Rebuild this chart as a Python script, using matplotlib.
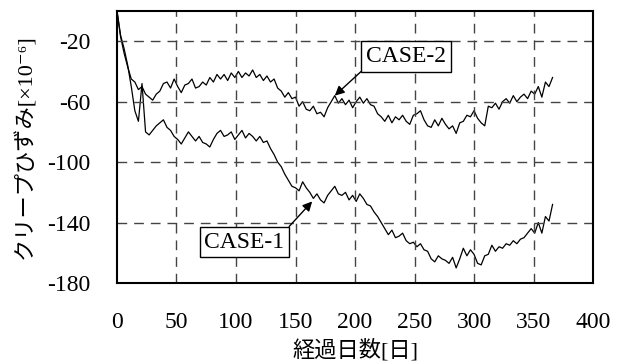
import numpy as np
import matplotlib
matplotlib.use('Agg')
import matplotlib.pyplot as plt

plt.rcParams['font.family'] = ['Liberation Serif', 'Noto Sans CJK JP', 'DejaVu Serif']
plt.rcParams['axes.unicode_minus'] = False

days = np.arange(0, 367, 3)

case2 = [0, -17, -28, -37, -45, -47, -52, -50, -55, -57,
         -59, -55, -53, -48, -47, -51, -45, -50, -54, -49,
         -48, -45, -51, -50, -47, -49, -44, -47, -42, -45,
         -42, -46, -41, -44, -40, -44, -41, -43, -39, -44,
         -42, -46, -43, -47, -45, -51, -53, -57, -54, -58,
         -57, -63, -60, -65, -66, -63, -68, -67, -70, -64,
         -60, -56, -61, -58, -62, -59, -64, -60, -57, -61,
         -58, -62, -63, -68, -70, -73, -69, -74, -70, -72,
         -69, -73, -75, -69, -68, -66, -72, -76, -77, -72,
         -76, -71, -75, -78, -76, -81, -74, -73, -69, -70,
         -66, -71, -74, -76, -63, -64, -61, -65, -60, -58,
         -61, -56, -60, -57, -55, -58, -53, -55, -50, -57,
         -47, -50, -44]

case1 = [0, -16, -25, -36, -50, -66, -73, -48, -80, -82,
         -79, -76, -74, -72, -77, -79, -83, -85, -88, -84,
         -80, -83, -86, -83, -87, -88, -90, -85, -81, -79,
         -83, -82, -80, -85, -82, -79, -84, -81, -83, -86,
         -83, -87, -86, -91, -95, -100, -103, -108, -112, -116,
         -117, -119, -113, -117, -120, -124, -121, -125, -127, -122,
         -119, -116, -121, -122, -120, -125, -122, -126, -121, -124,
         -128, -129, -133, -136, -140, -144, -148, -145, -150, -149,
         -147, -152, -154, -153, -156, -154, -158, -159, -164, -166,
         -162, -164, -165, -167, -163, -170, -164, -157, -162, -158,
         -161, -167, -168, -162, -161, -155, -159, -156, -157, -154,
         -155, -152, -154, -151, -150, -147, -144, -147, -140, -147,
         -136, -139, -128]

xticks = [0, 50, 100, 150, 200, 250, 300, 350, 400]
yticks = [-20, -60, -100, -140, -180]

fig = plt.figure(figsize=(6.2, 3.62), dpi=100)
ax = fig.add_axes([0.1887, 0.2182, 0.7678, 0.7514])

ax.plot(days, case2, color='black', lw=0.9)
ax.plot(days, case1, color='black', lw=0.9)

ax.set_xlim(0, 400)
ax.set_ylim(-180, 0)
ax.set_xticks(xticks)
ax.set_yticks(yticks)
ax.tick_params(length=0, labelsize=17)
ax.tick_params(axis='x', pad=21)
ax.tick_params(axis='y', pad=19)

for x in xticks[1:-1]:
    ax.axvline(x, color='#444444', lw=1, ls=(0, (7, 5)))
for y in yticks[:-1]:
    ax.axhline(y, color='#444444', lw=1, ls=(0, (7, 5)))

for s in ax.spines.values():
    s.set_linewidth(1.5)

box = dict(boxstyle='square,pad=0.2', fc='white', ec='black', lw=1)
ax.annotate('CASE-2', xy=(183, -56), xytext=(243, -30), ha='center', va='center',
            fontsize=17, bbox=box,
            arrowprops=dict(arrowstyle='-|>', color='black', lw=1, relpos=(0, 0),
                            mutation_scale=14, shrinkA=0, shrinkB=0))
ax.annotate('CASE-1', xy=(164, -126), xytext=(107, -153), ha='center', va='center',
            fontsize=17, bbox=box,
            arrowprops=dict(arrowstyle='-|>', color='black', lw=1, relpos=(1, 1),
                            mutation_scale=14, shrinkA=0, shrinkB=0))

fig.text(355 / 620, 1 - 350 / 362, '経過日数[日]', ha='center', va='center', fontsize=16)
fig.text(25 / 620, 1 - 147 / 362, 'クリープひずみ[×10⁻⁶]', ha='center', va='center',
         rotation=90, fontsize=16)

fig.savefig('out.png', dpi=100)
